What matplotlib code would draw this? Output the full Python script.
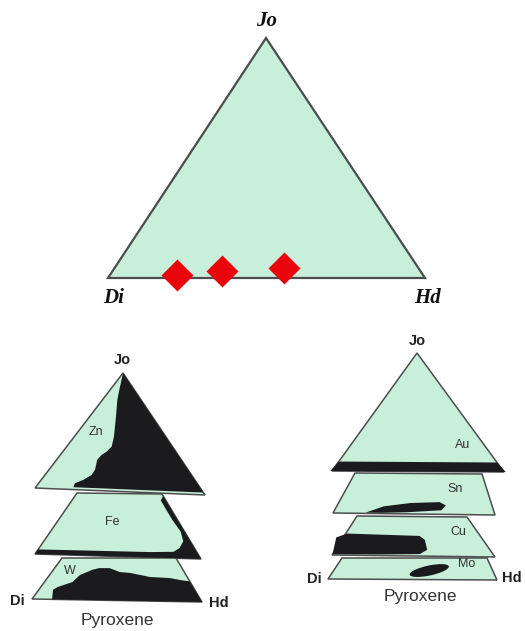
""" Pyroxene end-member diagrams (Di - Hd - Jo) """

import numpy as np
import matplotlib.pyplot as plt
from matplotlib.patches import Polygon, Ellipse

# Colours
mint = '#c7efda'
edge = '#4d4d4d'
ink = '#1b1b1d'
red = '#e8060c'

# ---- data ----
# top diagram: the three samples, fraction of Hd and of Jo
sample_hd = [0.21, 0.345, 0.535]
sample_jo = [0.0125, 0.03, 0.042]

# lower diagrams: dark fields, as (across, up) fractions inside each slice
zn_u = [0.5, 0.365, 0.371, 0.406, 0.419, 0.411, 0.374, 0.338, 0.313, 0.318, 0.306, 0.262, 0.219, 0.219, 1.0, 1.0]
zn_v = [1.0, 0.884, 0.772, 0.631, 0.461, 0.376, 0.332, 0.303, 0.26, 0.174, 0.13, 0.085, 0.054, 0.02, 0.02, 1.0]
fe_u = [1.0, 0.945, 0.95, 0.955, 0.97, 0.95, 0.9, 0.85, 0.7, 0.3, 0.0, 0.0, 1.0]
fe_v = [0.97, 0.9, 0.75, 0.6, 0.42, 0.27, 0.16, 0.1, 0.085, 0.08, 0.075, 0.0, 0.0]
w_u = [0.118, 0.09, 0.11, 0.19, 0.22, 0.30, 0.35, 0.43, 0.51, 0.59, 0.73, 0.87, 0.95, 1.0, 1.0]
w_v = [0.0, 0.23, 0.30, 0.42, 0.59, 0.72, 0.76, 0.76, 0.67, 0.65, 0.56, 0.54, 0.49, 0.47, 0.0]
au_u = [-0.01, 1.01, 1.0, 0.0]
au_v = [0.0, 0.0, 0.08, 0.08]
sn_u = [0.2, 0.3, 0.47, 0.66, 0.70, 0.67, 0.45, 0.3]
sn_v = [0.02, 0.18, 0.27, 0.30, 0.22, 0.10, 0.04, 0.02]
cu_u = [0.0, -0.05, 0.01, 0.55, 0.585, 0.59, 0.54, 0.3]
cu_v = [0.02, 0.45, 0.55, 0.51, 0.41, 0.16, 0.05, 0.03]
mo_u = [0.6]
mo_v = [0.42]

left_labels = ['Zn', 'Fe', 'W']
right_labels = ['Au', 'Sn', 'Cu', 'Mo']

# ---- layout (pixel positions of the drawing) ----
top_tri = {'Di': (108, 278), 'Hd': (425, 278), 'Jo': (266, 38)}

# slices: bottom-left, bottom-right, top-left, top-right
left_slices = [
    [(35, 488), (205, 495), (123, 373), (123, 373)],
    [(35, 554), (201, 559), (77, 493), (162, 494)],
    [(32, 599), (202, 602), (62, 558), (176, 558)],
]
right_slices = [
    [(332, 471), (504, 472), (417, 353), (417, 353)],
    [(333, 513), (495, 515), (355, 473), (482, 474)],
    [(332, 555), (495, 557), (357, 516), (467, 517)],
    [(328, 579), (497, 580), (342, 558), (487, 558)],
]
left_label_pos = [(96, 432), (112, 522), (70, 571)]
right_label_pos = [(463, 445), (455, 489), (458, 532), (467, 564)]


def tern(hd, jo):
    """Ternary fractions -> pixel position on the top triangle"""
    di = 1 - hd - jo
    x = di * top_tri['Di'][0] + hd * top_tri['Hd'][0] + jo * top_tri['Jo'][0]
    y = di * top_tri['Di'][1] + hd * top_tri['Hd'][1] + jo * top_tri['Jo'][1]
    return x, y


def quad(q, u, v):
    """(across, up) fractions -> pixel position inside a slice"""
    bl, br, tl, tr = [np.array(p, dtype=float) for p in q]
    u = np.asarray(u, dtype=float)[:, None]
    v = np.asarray(v, dtype=float)[:, None]
    bottom = bl + u * (br - bl)
    top = tl + u * (tr - tl)
    return bottom + v * (top - bottom)


fig = plt.figure(figsize=(5.25, 6.31), dpi=100)
ax = fig.add_axes([0, 0, 1, 1])
ax.set_xlim(0, 525)
ax.set_ylim(631, 0)
ax.axis('off')

# Top triangle
corners = [top_tri['Di'], top_tri['Hd'], top_tri['Jo']]
ax.add_patch(Polygon(corners, closed=True, facecolor=mint, edgecolor=edge, lw=1.6, zorder=1))
xs, ys = zip(*[tern(h, j) for h, j in zip(sample_hd, sample_jo)])
ax.plot(xs, ys, 'D', color=red, ms=16, mec='none', zorder=3)

serif = dict(family='Liberation Serif', fontweight='bold', fontstyle='italic', fontsize=15, color='#111111',
             ha='center', va='center')
ax.text(267, 21, 'Jo', **serif)
ax.text(114, 298, 'Di', **serif)
ax.text(428, 298, 'Hd', **serif)


def draw_slice(q, fu, fv):
    outline = quad(q, [0, 1, 1, 0], [0, 0, 1, 1])
    ax.add_patch(Polygon(outline, closed=True, facecolor=mint, edgecolor=edge, lw=1.1, zorder=1))
    ax.add_patch(Polygon(quad(q, fu, fv), closed=True, facecolor=ink, edgecolor='none', zorder=2))


# Lower left diagram
for q, fu, fv in zip(left_slices, [zn_u, fe_u, w_u], [zn_v, fe_v, w_v]):
    draw_slice(q, fu, fv)

# Lower right diagram
for q, fu, fv in zip(right_slices[:3], [au_u, sn_u, cu_u], [au_v, sn_v, cu_v]):
    draw_slice(q, fu, fv)
mo_q = right_slices[3]
outline = quad(mo_q, [0, 1, 1, 0], [0, 0, 1, 1])
ax.add_patch(Polygon(outline, closed=True, facecolor=mint, edgecolor=edge, lw=1.1, zorder=1))
cx, cy = quad(mo_q, mo_u, mo_v)[0]
ax.add_patch(Ellipse((cx, cy), 40, 10, angle=-12, facecolor=ink, edgecolor='none', zorder=2))

sans_b = dict(family='Liberation Sans', fontweight='bold', fontsize=10.5, color='#222222',
              ha='center', va='center')
small = dict(family='Liberation Sans', fontsize=9, color='#333333', ha='center', va='center')
big = dict(family='Liberation Sans', fontsize=12.5, color='#333333', ha='center', va='center')

for lab, (x, y) in zip(left_labels, left_label_pos):
    ax.text(x, y, lab, **small)
for lab, (x, y) in zip(right_labels, right_label_pos):
    ax.text(x, y, lab, **small)

ax.text(122, 360, 'Jo', **sans_b)
ax.text(17, 601, 'Di', **sans_b)
ax.text(219, 603, 'Hd', **sans_b)
ax.text(117, 620, 'Pyroxene', **big)

ax.text(417, 341, 'Jo', **sans_b)
ax.text(314, 579, 'Di', **sans_b)
ax.text(512, 578, 'Hd', **sans_b)
ax.text(420, 597, 'Pyroxene', **big)

plt.savefig('out.png', dpi=100)
